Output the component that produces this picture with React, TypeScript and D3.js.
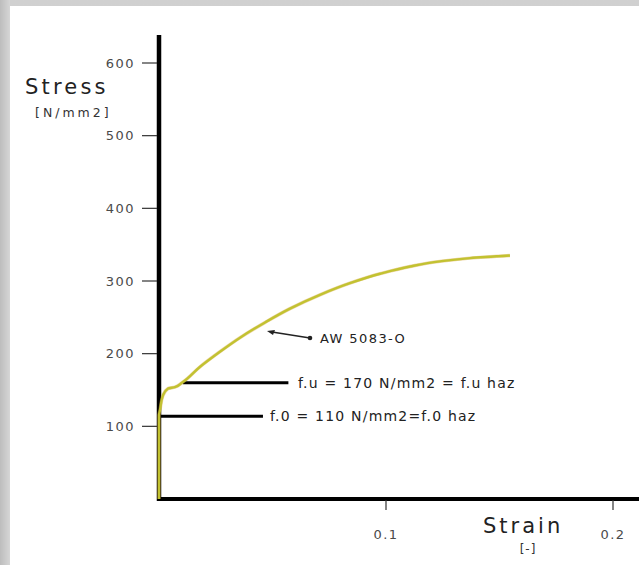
import React from "react";
import * as d3 from "d3";

const W = 639;
const H = 565;

// stress-strain curve (strain [-], stress [N/mm2])
const strain = [0, 0, 0.00044, 0.0018, 0.004, 0.007, 0.0101, 0.0181, 0.027, 0.0357, 0.0467, 0.0577, 0.0709, 0.0841, 0.0974, 0.1106, 0.1238, 0.137, 0.1546];
const stress = [0, 115, 122.5, 143, 152, 154, 160, 182, 203, 222, 243, 262, 281, 297, 310, 320, 327, 331.5, 335];

const yTicks = [100, 200, 300, 400, 500, 600];
const xTicks = [0.1, 0.2];
const xTickLabels = ["0.1", "0.2"];

// reference lines
const fuLine = { x0: 0.0105, x1: 0.057, y: 160, label: "f.u = 170 N/mm2 = f.u haz" };
const f0Line = { x0: 0, x1: 0.0458, y: 114, label: "f.0 = 110 N/mm2=f.0 haz" };
const curveLabel = "AW 5083-O";

export default function App() {
  const x = d3.scaleLinear().domain([0, 0.2]).range([159, 613]);
  const y = d3.scaleLinear().domain([0, 600]).range([499, 63]);
  const pts: [number, number][] = strain.map((s, i) => [s, stress[i]]);
  const line = d3
    .line<[number, number]>()
    .x((d) => x(d[0]))
    .y((d) => y(d[1]))
    .curve(d3.curveMonotoneY);
  const font = "'DejaVu Sans', Verdana, sans-serif";
  const tc = "#4a4a4a";

  return (
    <svg width={W} height={H} style={{ position: "absolute", left: 0, top: 0 }} fontFamily={font}>
      <defs>
        <linearGradient id="lg" x1="0" x2="1" y1="0" y2="0">
          <stop offset="0" stopColor="#bdbdbd" />
          <stop offset="1" stopColor="#d6d6d6" />
        </linearGradient>
        <linearGradient id="tg" x1="0" x2="0" y1="0" y2="1">
          <stop offset="0" stopColor="#d0d0d0" />
          <stop offset="1" stopColor="#dcdcdc" />
        </linearGradient>
      </defs>
      <rect x={0} y={0} width={W} height={H} fill="url(#tg)" />
      <rect x={0} y={0} width={10} height={H} fill="url(#lg)" />
      <rect x={10} y={6} width={W - 10} height={H - 6} fill="#ffffff" />

      {/* y axis */}
      <line x1={159} x2={159} y1={35} y2={501} stroke="#000" strokeWidth={4.5} />
      {yTicks.map((t) => (
        <g key={t}>
          <line x1={142} x2={157} y1={y(t)} y2={y(t)} stroke="#333" strokeWidth={1.2} />
          <text x={135} y={y(t)} dy="0.36em" textAnchor="end" fontSize={13} letterSpacing={1.5} fill={tc}>
            {t}
          </text>
        </g>
      ))}
      <text x={25} y={94} fontSize={21} letterSpacing={3.2} fill="#222">Stress</text>
      <text x={35} y={117} fontSize={12.5} letterSpacing={3} fill="#333">[N/mm2]</text>

      {/* x axis */}
      <line x1={157} x2={W} y1={499} y2={499} stroke="#000" strokeWidth={4} />
      {xTicks.map((t, i) => (
        <g key={t}>
          <line x1={x(t)} x2={x(t)} y1={500} y2={510} stroke="#333" strokeWidth={1.2} />
          <text x={x(t)} y={534} dy="0.36em" textAnchor="middle" fontSize={13} letterSpacing={1.5} fill={tc}>
            {xTickLabels[i]}
          </text>
        </g>
      ))}
      <text x={483} y={533} fontSize={21} letterSpacing={3} fill="#222">Strain</text>
      <text x={528} y={553} textAnchor="middle" fontSize={12} letterSpacing={1} fill="#333">[-]</text>

      {/* reference lines */}
      <line x1={x(f0Line.x0)} x2={x(f0Line.x1)} y1={y(f0Line.y)} y2={y(f0Line.y)} stroke="#000" strokeWidth={3} />
      <text x={270} y={y(f0Line.y) + 5} fontSize={14} letterSpacing={1.2} fill="#222">{f0Line.label}</text>
      <line x1={x(fuLine.x0)} x2={x(fuLine.x1)} y1={y(fuLine.y)} y2={y(fuLine.y)} stroke="#000" strokeWidth={3} />
      <text x={298} y={y(fuLine.y) + 5} fontSize={14} letterSpacing={1.2} fill="#222">{fuLine.label}</text>

      {/* curve */}
      <path d={line(pts) || ""} fill="none" stroke="#d9a640" strokeWidth={3.4} opacity={0.45} />
      <path d={line(pts) || ""} fill="none" stroke="#c2c231" strokeWidth={2.4} />

      {/* curve annotation */}
      <line x1={272} x2={310} y1={332} y2={338} stroke="#222" strokeWidth={1.3} />
      <path d="M267,331 L275,330 L273,335 Z" fill="#222" />
      <circle cx={310} cy={338} r={2.3} fill="#222" />
      <text x={320} y={343} fontSize={13} letterSpacing={1.4} fill="#222">{curveLabel}</text>
    </svg>
  );
}
